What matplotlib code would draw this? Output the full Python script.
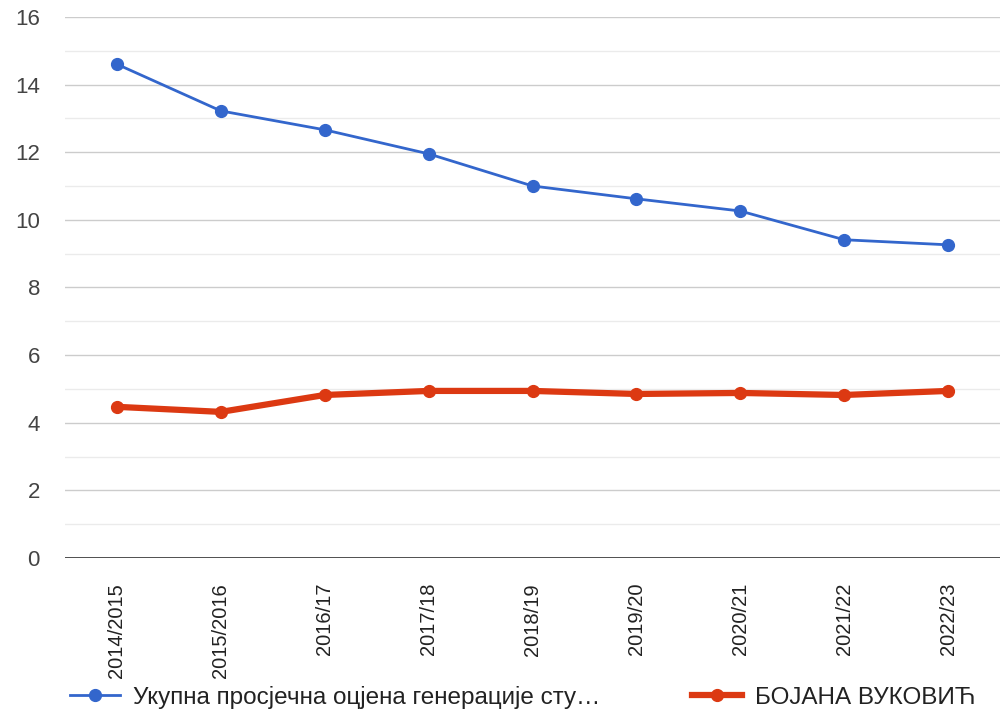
import matplotlib.pyplot as plt
from matplotlib.ticker import MultipleLocator

plt.rcParams['font.family'] = ['Liberation Sans', 'DejaVu Sans']

# school years
years = ["2014/2015", "2015/2016", "2016/17", "2017/18", "2018/19",
         "2019/20", "2020/21", "2021/22", "2022/23"]

# average grade of the whole generation
generation = [14.6, 13.22, 12.66, 11.95, 11.0, 10.62, 10.26, 9.41, 9.26]
# one student
student = [4.47, 4.32, 4.82, 4.94, 4.94, 4.85, 4.88, 4.82, 4.94]

gen_label = "Укупна просјечна оцјена генерације сту…"
stu_label = "БОЈАНА ВУКОВИЋ"

fig = plt.figure(figsize=(10, 7.12), dpi=100)
ax = fig.add_axes([0.065, 0.2163, 0.935, 0.76])

x = list(range(len(years)))
ax.plot(x, generation, color="#3366cc", linewidth=2, marker="o",
        markersize=8.5, label=gen_label, zorder=3)
ax.plot(x, student, color="#dc3912", linewidth=4.5, marker="o",
        markersize=8.5, label=stu_label, zorder=3)

ax.set_xlim(-0.5, len(years) - 0.5)
ax.set_ylim(0, 16)
ax.yaxis.set_major_locator(MultipleLocator(2))
ax.yaxis.set_minor_locator(MultipleLocator(1))
ax.grid(axis="y", which="major", color="#cccccc", linewidth=1)
ax.grid(axis="y", which="minor", color="#ebebeb", linewidth=1)
ax.axhline(0, color="#333333", linewidth=1.2, zorder=2)

ax.set_xticks(x)
ax.set_xticklabels(years, rotation=90, va="top", ha="center")
ax.tick_params(axis="x", length=0, pad=18, labelsize=14.5, labelcolor="#222222")
ax.tick_params(axis="y", which="both", length=0, pad=18, labelsize=16,
               labelcolor="#444444")

for s in ax.spines.values():
    s.set_visible(False)

leg = fig.legend(loc="center left", bbox_to_anchor=(0.07, 0.021),
                 ncol=2, frameon=False, fontsize=17.5, handlelength=2.05,
                 handletextpad=0.53, columnspacing=3.8, borderpad=0,
                 borderaxespad=0)
for t in leg.get_texts():
    t.set_color("#222222")

fig.savefig("out.png", dpi=100)
